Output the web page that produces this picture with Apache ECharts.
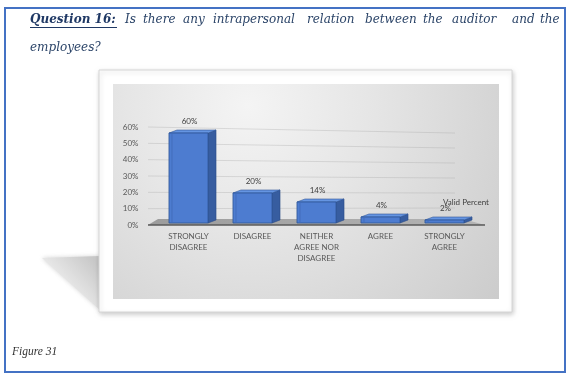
<!DOCTYPE html>
<html><head><meta charset="utf-8">
<script src="https://cdn.jsdelivr.net/npm/echarts@6/dist/echarts.min.js"></script>
<style>html,body{margin:0;padding:0;background:#fff}#c{width:571px;height:380px}</style>
</head><body><div id="c"></div>
<script>
// ---- data ----
const categories = ['STRONGLY\nDISAGREE', 'DISAGREE', 'NEITHER\nAGREE NOR\nDISAGREE', 'AGREE', 'STRONGLY\nAGREE'];
const validPercent = [60, 20, 14, 4, 2];
const yTicks = [10, 20, 30, 40, 50, 60];
const seriesName = 'Valid Percent';
const titleLead = 'Question 16:';
const titleWords = ['Is', 'there', 'any', 'intrapersonal', 'relation', 'between', 'the', 'auditor', 'and', 'the'];
const titleLine2 = 'employees?';
const caption = 'Figure 31';

// ---- layout (positions only) ----
const wordX = [125, 143, 183, 213, 307, 365, 423, 452, 512, 540];
const K = 0.918;          // front-plane scale of the 3D bars
const DX = 8, DY = -3;    // bar depth offset
const labelFont = 'Lato';
const serif = '"DejaVu Serif"';

const chart = echarts.init(document.getElementById('c'), null, { renderer: 'canvas' });

function renderBar(params, api) {
  const i = api.value(0), v = api.value(1);
  const base = api.coord([i, 0]);
  const top = api.coord([i, v]);
  const yB = base[1] - 2;
  const yT = yB - (base[1] - top[1]) * K;
  const w = api.size([1, 0])[0] * 0.61;
  const x0 = base[0] - w / 2, x1 = base[0] + w / 2;
  return {
    type: 'group', children: [
      { type: 'polygon', shape: { points: [[x1, yT], [x1 + DX, yT + DY], [x1 + DX, yB + DY], [x1, yB]] },
        style: { fill: '#375da0', stroke: '#2a4b86', lineWidth: 0.6 } },
      { type: 'polygon', shape: { points: [[x0, yT], [x0 + DX, yT + DY], [x1 + DX, yT + DY], [x1, yT]] },
        style: { fill: '#6595e2', stroke: '#2f5597', lineWidth: 0.6 } },
      { type: 'rect', shape: { x: x0, y: yT, width: w, height: yB - yT },
        style: { fill: '#4d7cd0', stroke: '#2f5597', lineWidth: 0.8 } },
      { type: 'line', shape: { x1: x0 + 3, y1: yT + 1, x2: x0 + 3, y2: yB - 1 },
        style: { stroke: 'rgba(40,70,140,0.35)', lineWidth: 0.8 } },
      { type: 'text', x: base[0] + 1, y: yT - 12,
        style: { text: v + '%', fill: '#404040', fontSize: 8, fontFamily: labelFont, align: 'center', verticalAlign: 'middle' } }
    ]
  };
}

function renderGridLine(params, api) {
  const cs = params.coordSys;
  const t = api.value(1);
  const y0 = api.coord([0, 0])[1];
  const yl = api.coord([0, t])[1];
  const yr = (y0 - 2) - (y0 - yl) * K;
  return { type: 'line', shape: { x1: cs.x - 8.5, y1: yl, x2: cs.x + cs.width - 21.5, y2: yr },
    style: { stroke: 'rgba(160,160,160,0.3)', lineWidth: 1 } };
}

function renderFloor(params, api) {
  const cs = params.coordSys;
  const y0 = api.coord([0, 0])[1];
  const X0 = cs.x - 8.5, X1 = cs.x + cs.width + 8.5;
  return { type: 'group', children: [
    { type: 'polygon', shape: { points: [[X0, y0], [X0 + 10, y0 - 6], [X1 - 22, y0 - 6], [X1, y0]] },
      style: { fill: new echarts.graphic.LinearGradient(0, 0, 1, 0, [{ offset: 0, color: '#9c9c9c' }, { offset: 1, color: '#b4b4b4' }]) } },
    { type: 'line', shape: { x1: X0, y1: y0, x2: X1, y2: y0 }, style: { stroke: '#5a5a5a', lineWidth: 1.5 } }
  ] };
}

function txt(x, y, text, opts) {
  return { type: 'text', x: x, y: y, z: 1,
    style: Object.assign({ text: text, verticalAlign: 'middle' }, opts) };
}
const bodyStyle = { fill: '#2b4468', fontFamily: serif, fontStyle: 'italic', fontSize: 12 };

const titleText = [];
titleText.push(txt(30, 20, titleLead, { fill: '#1f3864', fontFamily: serif, fontStyle: 'italic', fontWeight: 'bold', fontSize: 12 }));
titleText.push({ type: 'line', z: 1, shape: { x1: 30, y1: 27.5, x2: 117, y2: 27.5 }, style: { stroke: '#1f3864', lineWidth: 1 } });
titleWords.forEach((w, i) => titleText.push(txt(wordX[i], 20, w, bodyStyle)));
titleText.push(txt(30, 48, titleLine2, bodyStyle));
titleText.push(txt(12, 352, caption, { fill: '#333333', fontFamily: '"Liberation Serif"', fontStyle: 'italic', fontSize: 11.5 }));

const option = {
  animation: false,
  graphic: [
    { type: 'rect', z: 1, shape: { x: 5, y: 8, width: 560, height: 364 },
      style: { fill: 'none', stroke: '#4472c4', lineWidth: 2 } },
    { type: 'polygon', z: 1, shape: { points: [[42, 258], [100, 256], [100, 310]] },
      style: { fill: new echarts.graphic.LinearGradient(1, 0.2, 0.3, 0.9, [{ offset: 0, color: '#c8c8c8' }, { offset: 1, color: '#f8f8f8' }]),
        shadowBlur: 4, shadowColor: 'rgba(200,200,200,0.8)' } },
    { type: 'rect', z: 1, shape: { x: 99, y: 70, width: 413, height: 242 },
      style: { fill: '#ffffff', stroke: '#d6d6d6', lineWidth: 1, shadowBlur: 5, shadowColor: 'rgba(0,0,0,0.2)', shadowOffsetX: 1, shadowOffsetY: 2 } },
    { type: 'rect', z: 1, shape: { x: 113, y: 84, width: 386, height: 215 },
      style: { fill: new echarts.graphic.RadialGradient(0.35, 0.1, 1.6, [
        { offset: 0, color: '#f4f4f4' }, { offset: 0.35, color: '#e6e6e6' }, { offset: 1, color: '#c8c8c8' }]) } },
    ...titleText
  ],
  legend: {
    data: [seriesName], left: 433, top: 193, icon: 'none', itemWidth: 0, itemHeight: 0, selectedMode: false,
    textStyle: { color: '#404040', fontSize: 8, fontFamily: labelFont }
  },
  grid: { left: 156.5, right: 94.5, top: 127, bottom: 155 },
  xAxis: {
    type: 'category', data: categories, z: 5,
    axisLine: { show: false }, axisTick: { show: false }, splitLine: { show: false },
    axisLabel: { interval: 0, color: '#595959', fontSize: 8, fontFamily: labelFont, lineHeight: 11, margin: 6 }
  },
  yAxis: {
    type: 'value', min: 0, max: 60, interval: 10, z: 5,
    axisLine: { show: false }, axisTick: { show: false }, splitLine: { show: false },
    axisLabel: { formatter: '{value}%', color: '#595959', fontSize: 8, fontFamily: labelFont, margin: 18 }
  },
  series: [
    { type: 'custom', name: 'gridlines', z: 6, renderItem: renderGridLine, data: yTicks.map(t => [0, t]), silent: true },
    { type: 'custom', name: 'floor', z: 7, renderItem: renderFloor, data: [[0, 0]], silent: true },
    { type: 'custom', name: seriesName, z: 10, renderItem: renderBar, data: validPercent.map((v, i) => [i, v]),
      itemStyle: { color: '#4472c4' } }
  ]
};
chart.setOption(option);
</script>
</body></html>
